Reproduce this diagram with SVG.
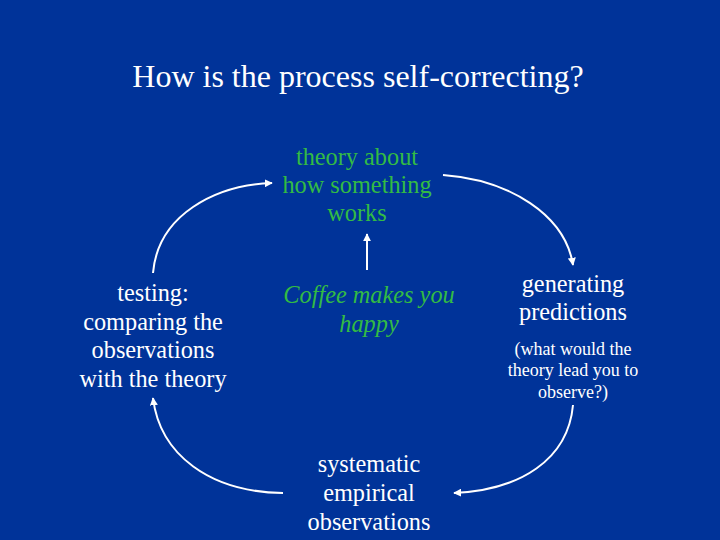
<svg xmlns="http://www.w3.org/2000/svg" width="720" height="540" viewBox="0 0 720 540">
<defs>
<marker id="ah" viewBox="0 0 10 10" refX="9" refY="5" markerWidth="4" markerHeight="4" orient="auto" markerUnits="strokeWidth">
<path d="M0,0 L10,5 L0,10 z" fill="#ffffff"/>
</marker>
<style>
text{text-anchor:middle}
.t{fill:#ffffff;font-size:32px}
.w{fill:#ffffff;font-size:24.3px}
.g{fill:#33bb44;font-size:24.3px}
.s{fill:#ffffff;font-size:18px}
.c{fill:none;stroke:#ffffff;stroke-width:2}
</style>
</defs>
<rect width="720" height="540" fill="#003399"/>
<g font-family="'Liberation Serif', 'Times New Roman', 'DejaVu Serif', serif">
<text class="t" x="358" y="87">How is the process self-correcting?</text>
<g id="theory">
<text class="g" x="357" y="165">theory about</text>
<text class="g" x="357" y="193">how something</text>
<text class="g" x="357" y="221">works</text>
</g>
<g id="testing">
<text class="w" x="153" y="301">testing:</text>
<text class="w" x="153" y="330">comparing the</text>
<text class="w" x="153" y="358">observations</text>
<text class="w" x="153" y="387">with the theory</text>
</g>
<g id="coffee">
<text class="g" x="369" y="303" font-style="italic">Coffee makes you</text>
<text class="g" x="369" y="332" font-style="italic">happy</text>
</g>
<g id="predictions">
<text class="w" x="573" y="292">generating</text>
<text class="w" x="573" y="320">predictions</text>
<text class="s" x="573" y="355">(what would the</text>
<text class="s" x="573" y="376">theory lead you to</text>
<text class="s" x="573" y="398">observe?)</text>
</g>
<g id="observations">
<text class="w" x="369" y="472">systematic</text>
<text class="w" x="369" y="501">empirical</text>
<text class="w" x="369" y="530">observations</text>
</g>
</g>
<g id="connectors">
<path class="c" d="M153,273 C158,215 215,185 272,183" marker-end="url(#ah)"/>
<path class="c" d="M443,175 C510,180 565,215 573,265" marker-end="url(#ah)"/>
<path class="c" d="M367,270 L367,234" marker-end="url(#ah)"/>
<path class="c" d="M283,493 C210,492 160,455 153,398" marker-end="url(#ah)"/>
<path class="c" d="M573,405 C568,460 520,490 454,493" marker-end="url(#ah)"/>
</g>
</svg>
